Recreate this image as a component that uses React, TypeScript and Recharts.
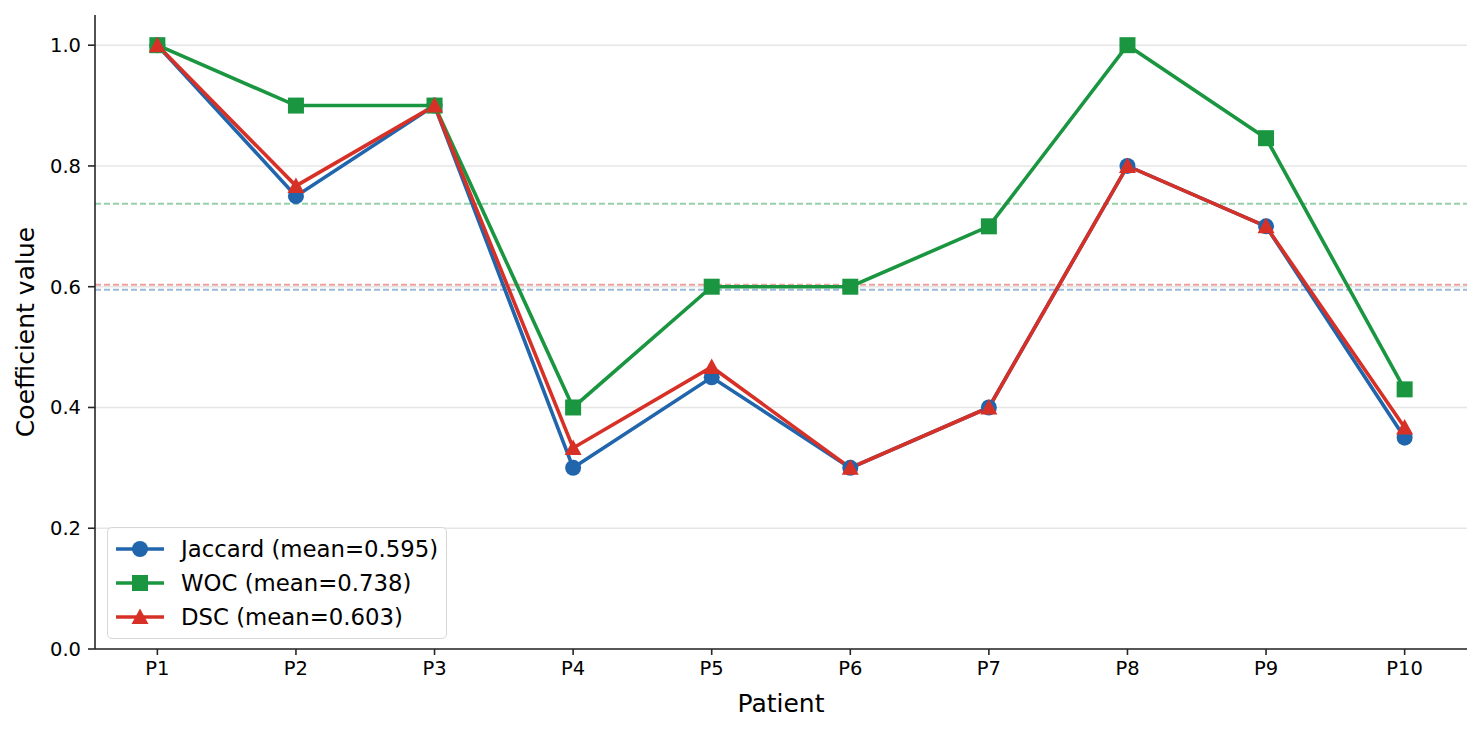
import { LineChart, Line, XAxis, YAxis, CartesianGrid, ReferenceLine, Legend } from 'recharts';

// Per-patient agreement coefficients
const patients = ['P1', 'P2', 'P3', 'P4', 'P5', 'P6', 'P7', 'P8', 'P9', 'P10'];
const jaccard = [1.0, 0.75, 0.9, 0.3, 0.45, 0.3, 0.4, 0.8, 0.7, 0.35];
const woc = [1.0, 0.9, 0.9, 0.4, 0.6, 0.6, 0.7, 1.0, 0.846, 0.43];
const dsc = [1.0, 0.767, 0.9, 0.333, 0.467, 0.3, 0.4, 0.8, 0.7, 0.367];
const yTicks = [0, 0.2, 0.4, 0.6, 0.8, 1.0];

const C = {
  blue: '#2166ac',
  green: '#1a9641',
  red: '#d73027',
  axis: '#262626',
  grid: '#e6e6e6',
};

const FONT = '"DejaVu Sans", sans-serif';

const mean = (a: number[]) => a.reduce((s, v) => s + v, 0) / a.length;

const data = patients.map((p, i) => ({ idx: i, name: p, jaccard: jaccard[i], woc: woc[i], dsc: dsc[i] }));

type Shape = 'circle' | 'square' | 'triangle';

function marker(shape: Shape, cx: number, cy: number, color: string, key?: string | number) {
  if (shape === 'circle') return <circle key={key} cx={cx} cy={cy} r={8} fill={color} />;
  if (shape === 'square') return <rect key={key} x={cx - 8} y={cy - 8} width={16} height={16} fill={color} />;
  return <polygon key={key} points={`${cx},${cy - 8.5} ${cx - 8.5},${cy + 7} ${cx + 8.5},${cy + 7}`} fill={color} />;
}

const dotFor = (shape: Shape, color: string) => (props: any) =>
  marker(shape, props.cx, props.cy, color, props.key ?? `${shape}-${props.index}`);

const series = [
  { key: 'jaccard', label: 'Jaccard', color: C.blue, shape: 'circle' as Shape, m: mean(jaccard) },
  { key: 'woc', label: 'WOC', color: C.green, shape: 'square' as Shape, m: mean(woc) },
  { key: 'dsc', label: 'DSC', color: C.red, shape: 'triangle' as Shape, m: mean(dsc) },
];

function LegendBox() {
  return (
    <div style={{
      border: '1.5px solid #d6d6d6', borderRadius: 5, background: 'rgba(255,255,255,0.85)',
      padding: '4px 8px 4px 7px', fontFamily: FONT, fontSize: 22.8, color: '#000',
      width: 340, boxSizing: 'border-box' as const,
    }}>
      {series.map((s) => (
        <div key={s.key} style={{ display: 'flex', alignItems: 'center', height: 34, whiteSpace: 'nowrap' }}>
          <svg width={50} height={20} style={{ marginRight: 16, flex: 'none' }}>
            <line x1={1} y1={10} x2={49} y2={10} stroke={s.color} strokeWidth={3.6} />
            {marker(s.shape, 25, 10, s.color)}
          </svg>
          <span>{`${s.label} (mean=${s.m.toFixed(3)})`}</span>
        </div>
      ))}
    </div>
  );
}

const tickStyle = { fill: '#000', fontSize: 19.5, fontFamily: FONT };

export default function App() {
  return (
    <div style={{ position: 'absolute', left: 0, top: 0, width: 1482, height: 731, background: '#fff' }}>
      <LineChart width={1482} height={731} data={data} margin={{ top: 15, right: 15, bottom: 22, left: 15 }}>
        <CartesianGrid horizontal vertical={false} horizontalValues={yTicks} stroke={C.grid} strokeWidth={1.5} />
        <XAxis
          dataKey="idx" type="number" domain={[-0.45, 9.45]} ticks={patients.map((_, i) => i)}
          tickFormatter={(i: number) => patients[i]} height={60}
          tick={tickStyle} tickSize={6} tickMargin={6}
          axisLine={{ stroke: C.axis, strokeWidth: 1.6 }} tickLine={{ stroke: C.axis, strokeWidth: 1.6 }}
          label={{ value: 'Patient', position: 'insideBottom', offset: -3, fill: '#000', fontSize: 25, fontFamily: FONT }}
        />
        <YAxis
          type="number" domain={[0, 1.05]} ticks={yTicks} tickFormatter={(v: number) => v.toFixed(1)}
          width={80} tick={tickStyle} tickSize={7} tickMargin={7}
          axisLine={{ stroke: C.axis, strokeWidth: 1.6 }} tickLine={{ stroke: C.axis, strokeWidth: 1.6 }}
          label={{ value: 'Coefficient value', angle: -90, position: 'insideLeft', offset: 10, fill: '#000', fontSize: 25, fontFamily: FONT, style: { textAnchor: 'middle' } }}
        />
        {series.map((s) => (
          <ReferenceLine key={`m-${s.key}`} y={s.m} stroke={s.color} strokeOpacity={0.45} strokeWidth={2} strokeDasharray="6 3" />
        ))}
        {series.map((s) => (
          <Line
            key={s.key} type="linear" dataKey={s.key} stroke={s.color} strokeWidth={3.6}
            dot={dotFor(s.shape, s.color)} activeDot={false} isAnimationActive={false}
          />
        ))}
        <Legend
          layout="vertical" align="center" verticalAlign="middle"
          content={() => <LegendBox />}
          wrapperStyle={{ left: 107, top: 527, width: 'auto', height: 'auto' }}
        />
      </LineChart>
    </div>
  );
}
